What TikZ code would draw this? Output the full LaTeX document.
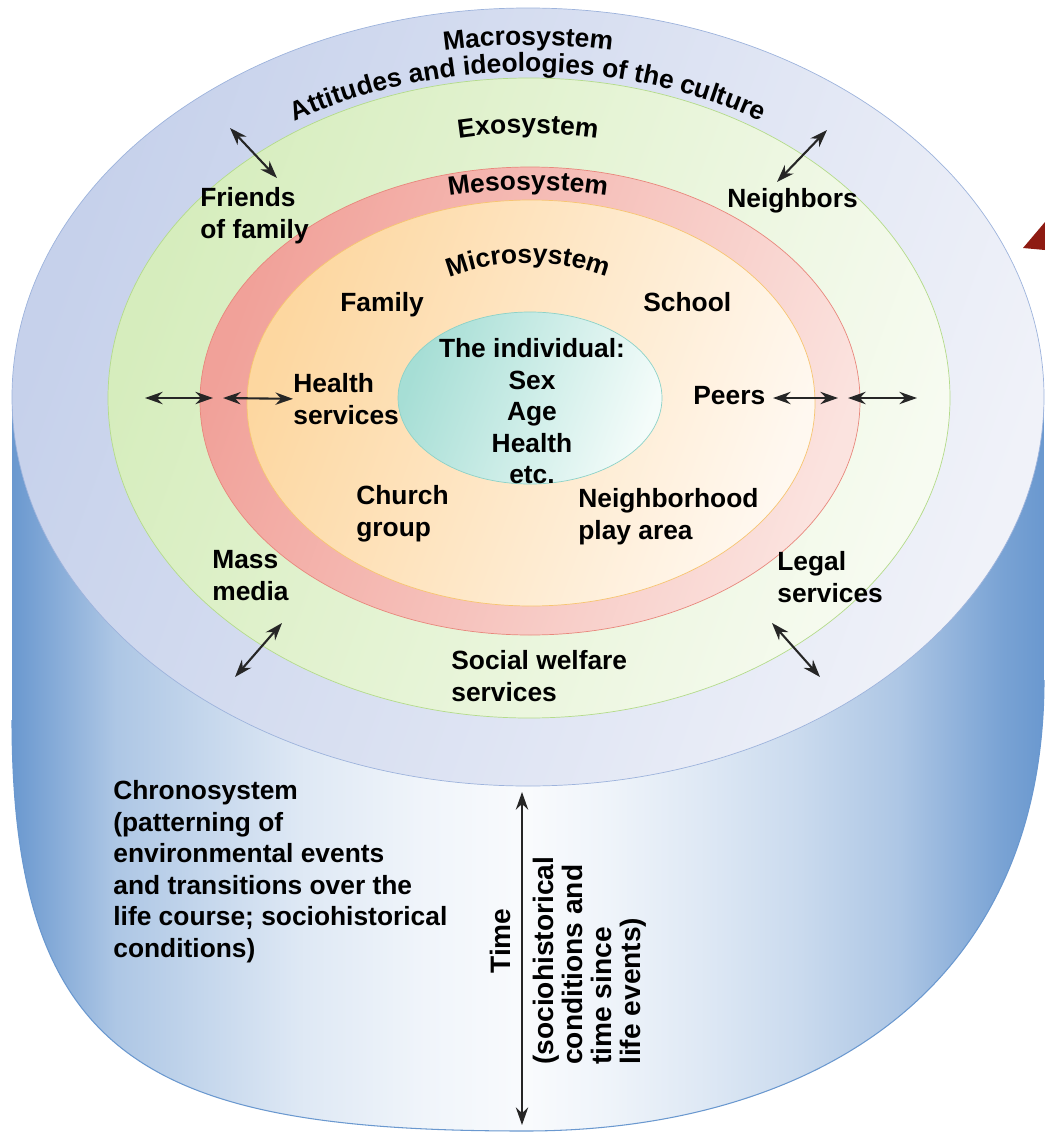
\documentclass[tikz,border=0pt]{standalone}
\usepackage{fontspec}
\setmainfont{Liberation Sans}
\usetikzlibrary{arrows.meta,decorations.text,calc}
\newcommand{\ringfont}{\fontsize{15}{18}\selectfont\bfseries}
\definecolor{macroL}{HTML}{C6D1EB}
\definecolor{macroR}{HTML}{F0F2F9}
\definecolor{macroline}{HTML}{9DB3DC}
\definecolor{exoL}{HTML}{D6EDBD}
\definecolor{exoR}{HTML}{F7FBF1}
\definecolor{exoline}{HTML}{B4DB8A}
\definecolor{mesoL}{HTML}{F1A199}
\definecolor{mesoR}{HTML}{FBE3DF}
\definecolor{mesoline}{HTML}{E8877C}
\definecolor{microL}{HTML}{FDD7A0}
\definecolor{microR}{HTML}{FFF8F0}
\definecolor{microline}{HTML}{F7C571}
\definecolor{indL}{HTML}{A6DED5}
\definecolor{indR}{HTML}{F4FCFA}
\definecolor{indline}{HTML}{8CD2C8}
\definecolor{cylblue}{HTML}{6A98CF}
\definecolor{tri}{HTML}{8E1B12}
\pgfdeclarehorizontalshading{cylshade}{100bp}{color(0bp)=(cylblue); color(25bp)=(cylblue); color(30bp)=(cylblue!55!white); color(39bp)=(cylblue!22!white); color(45bp)=(cylblue!10!white); color(50bp)=(cylblue!4!white); color(53.5bp)=(cylblue!10!white); color(58.5bp)=(cylblue!22!white); color(63bp)=(cylblue!35!white); color(68bp)=(cylblue!55!white); color(73bp)=(cylblue!90!white); color(75bp)=(cylblue); color(100bp)=(cylblue)}

\begin{document}
\begin{tikzpicture}[x=0.2mm,y=-0.2mm,
    lbl/.style={font=\ringfont,align=left,inner sep=0pt},
    rlbl/.style={font=\fontsize{16}{16.5}\selectfont\bfseries,align=left,inner sep=0pt,rotate=90},
    dbl/.style={{Stealth[length=10pt,width=7pt]}-{Stealth[length=10pt,width=7pt]},line width=1.2pt,black!85},
    ring/.style={left color=#1L,right color=#1R,shading angle=70,draw=#1line},
    ringtext/.style={decorate,decoration={text along path,text align=center,text={|\ringfont|#1}}}]
    \useasboundingbox (0,0) rectangle (1045,1133);
    \shade [shading=cylshade] (12,397) -- (12,720) .. controls (12,1060) and (150,1131) .. (525,1131) .. controls (800,1131) and (1044,1000) .. (1044,680) -- (1044,397) -- cycle;
    \draw [cylblue,line width=0.6pt] (12,720) .. controls (12,1060) and (150,1131) .. (525,1131) .. controls (800,1131) and (1044,1000) .. (1044,680);
    \draw [ring=macro] (528,397) ellipse [x radius=516,y radius=389];
    \draw [ring=exo] (529,398) ellipse [x radius=421,y radius=320];
    \draw [ring=meso] (530,401) ellipse [x radius=330,y radius=234];
    \draw [ring=micro] (531,403) ellipse [x radius=284,y radius=203];
    \draw [ring=ind] (530,398) ellipse [x radius=132,y radius=86];
    \fill [tri] (1023,248) -- (1045,222) -- (1045,250) -- cycle;

    \coordinate (ctr) at (528,397);
    \path [ringtext=Macrosystem] ($(ctr)+(235:470 and 352)$) arc [start angle=235,end angle=305,x radius=470,y radius=352];
    \path [ringtext=Attitudes and ideologies of the culture] ($(ctr)+(200:440 and 325)$) arc [start angle=200,end angle=340,x radius=440,y radius=325];
    \path [ringtext=Exosystem] ($(ctr)+(235:352 and 264)$) arc [start angle=235,end angle=305,x radius=352,y radius=264];
    \path [ringtext=Mesosystem] ($(ctr)+(230:330 and 207)$) arc [start angle=230,end angle=310,x radius=330,y radius=207];
    \path [ringtext=Microsystem] ($(ctr)+(200:175 and 134)$) arc [start angle=200,end angle=340,x radius=175,y radius=134];

    \node [lbl,anchor=north west] (friends) at (200,187) {Friends\\of family};
    \node [lbl,anchor=north west] (neighbors) at (727,188) {Neighbors};
    \node [lbl,anchor=north west] (family) at (340,292) {Family};
    \node [lbl,anchor=north west] (school) at (643,292) {School};
    \node [lbl,anchor=north west] (health) at (293,373) {Health\\services};
    \node [lbl,anchor=north west] (peers) at (693,386) {Peers};
    \node [lbl,align=center,anchor=north] (individual) at (532,338) {The individual:\\Sex\\Age\\Health\\etc.};
    \node [lbl,anchor=north west] (church) at (356,485) {Church\\group};
    \node [lbl,anchor=north west] (playarea) at (578,488) {Neighborhood\\play area};
    \node [lbl,anchor=north west] (media) at (212,550) {Mass\\media};
    \node [lbl,anchor=north west] (legal) at (777,551) {Legal\\services};
    \node [lbl,anchor=north west] (welfare) at (451,650) {Social welfare\\services};
    \node [lbl,anchor=north west] (chrono) at (113,780) {Chronosystem\\(patterning of\\environmental events\\and transitions over the\\life course; sociohistorical\\conditions)};
    \node [rlbl] (time) at (500,941) {Time};
    \node [rlbl,anchor=north west] (since) at (533,1065) {(sociohistorical\\conditions and\\time since\\life events)};

    \coordinate (fa) at (230,128);
    \coordinate (fb) at (277,178);
    \coordinate (na) at (827,130);
    \coordinate (nb) at (777,182);
    \coordinate (ma) at (282,623);
    \coordinate (mb) at (235,677);
    \coordinate (la) at (772,623);
    \coordinate (lb) at (820,677);
    \coordinate (ha) at (145,398);
    \coordinate (hb) at (213,398);
    \coordinate (hc) at (223,398);
    \coordinate (pa) at (773,398);
    \coordinate (pb) at (838,398);
    \coordinate (qa) at (848,398);
    \coordinate (qb) at (917,398);
    \coordinate (ta) at (522,792);
    \coordinate (tb) at (522,1125);
    \foreach \s/\e in {fa/fb,na/nb,ma/mb,la/lb,ha/hb,pa/pb,qa/qb,ta/tb}
    {   \draw [dbl] (\s) -- (\e);
    }
    \draw [dbl] (hc) -- (health.west);
\end{tikzpicture}
\end{document}
